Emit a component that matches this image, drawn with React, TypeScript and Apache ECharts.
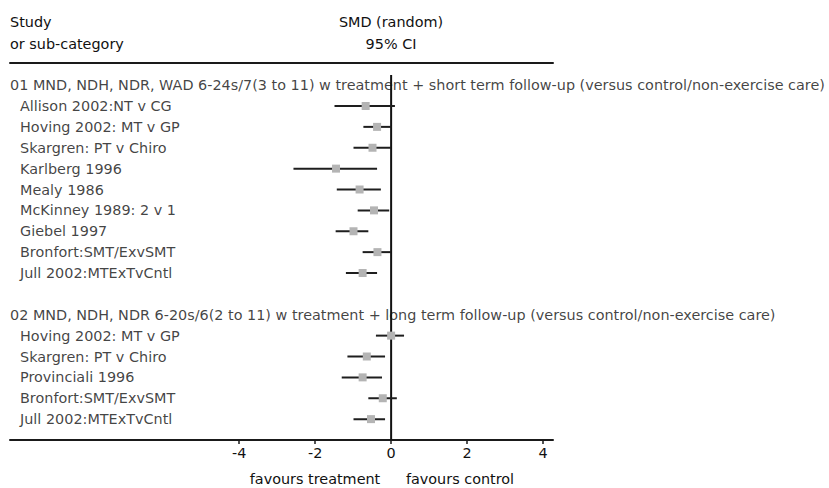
import React, { useEffect, useRef } from "react";
import * as echarts from "echarts";

// ---- Data ----
const groupTitles = [
  "01 MND, NDH, NDR, WAD 6-24s/7(3 to 11) w treatment + short term follow-up (versus control/non-exercise care)",
  "02 MND, NDH, NDR 6-20s/6(2 to 11) w treatment + long term follow-up (versus control/non-exercise care)",
];
const studies1 = [
  "Allison 2002:NT v CG",
  "Hoving 2002: MT v GP",
  "Skargren: PT v Chiro",
  "Karlberg 1996",
  "Mealy 1986",
  "McKinney 1989: 2 v 1",
  "Giebel 1997",
  "Bronfort:SMT/ExvSMT",
  "Jull 2002:MTExTvCntl",
];
const est1 = [-0.67, -0.37, -0.49, -1.45, -0.83, -0.45, -0.99, -0.36, -0.75];
const lo1 = [-1.49, -0.73, -0.99, -2.57, -1.43, -0.88, -1.46, -0.75, -1.19];
const hi1 = [0.1, 0.01, 0.0, -0.37, -0.27, -0.05, -0.6, 0.0, -0.37];

const studies2 = [
  "Hoving 2002: MT v GP",
  "Skargren: PT v Chiro",
  "Provinciali 1996",
  "Bronfort:SMT/ExvSMT",
  "Jull 2002:MTExTvCntl",
];
const est2 = [0.0, -0.64, -0.75, -0.22, -0.53];
const lo2 = [-0.4, -1.15, -1.3, -0.6, -0.99];
const hi2 = [0.34, -0.16, -0.24, 0.15, -0.16];

const xTicks = [-4, -2, 0, 2, 4];
const xMin = -10.03;
const xMax = 4.26;

const FONT = "DejaVu Sans";
const FS = 14.4;
const TXT = "#111";

export default function App() {
  const ref = useRef<HTMLDivElement>(null);
  useEffect(() => {
    if (!ref.current) return;
    const chart = echarts.init(ref.current, undefined, { renderer: "svg" });

    // Row layout: header, studies, blank, header, studies
    const headerRows: any[] = [];
    const studyRows: any[] = [];
    const ciRows: any[] = [];
    let row = 0;
    headerRows.push([xMin, row, groupTitles[0]]);
    row++;
    studies1.forEach((s, i) => {
      studyRows.push([xMin, row, s]);
      ciRows.push([est1[i], lo1[i], hi1[i], row]);
      row++;
    });
    row++;
    headerRows.push([xMin, row, groupTitles[1]]);
    row++;
    studies2.forEach((s, i) => {
      studyRows.push([xMin, row, s]);
      ciRows.push([est2[i], lo2[i], hi2[i], row]);
      row++;
    });

    const yMin = -1.06;
    const yMax = 17.0;
    const font = `${FS}px '${FONT}'`;

    const option: any = {
      animation: false,
      backgroundColor: "#fff",
      textStyle: { fontFamily: FONT },
      grid: { left: 10, right: 276, top: 63, bottom: 48, containLabel: false },
      xAxis: [
        {
          type: "value",
          min: xMin,
          max: xMax,
          position: "bottom",
          axisLine: { show: true, onZero: false, lineStyle: { color: "#1a1a1a", width: 2 } },
          axisTick: {
            show: true,
            length: 4,
            customValues: xTicks,
            lineStyle: { color: "#1a1a1a", width: 1.5 },
          },
          axisLabel: {
            show: true,
            customValues: xTicks,
            color: TXT,
            fontFamily: FONT,
            fontSize: FS,
            margin: 6,
          },
          splitLine: { show: false },
        },
        {
          type: "value",
          min: xMin,
          max: xMax,
          position: "top",
          axisLine: { show: true, onZero: false, lineStyle: { color: "#1a1a1a", width: 2 } },
          axisTick: { show: false },
          axisLabel: { show: false },
          splitLine: { show: false },
        },
      ],
      yAxis: {
        type: "value",
        inverse: true,
        min: yMin,
        max: yMax,
        show: false,
        axisLine: { onZero: false },
        splitLine: { show: false },
      },
      graphic: [
        { type: "text", x: 10, y: 22, style: { text: "Study", font, fill: TXT, verticalAlign: "middle" } },
        { type: "text", x: 10, y: 44, style: { text: "or sub-category", font, fill: TXT, verticalAlign: "middle" } },
        { type: "text", x: 391, y: 22, style: { text: "SMD (random)", font, fill: TXT, align: "center", verticalAlign: "middle" } },
        { type: "text", x: 391, y: 44, style: { text: "95% CI", font, fill: TXT, align: "center", verticalAlign: "middle" } },
        { type: "text", x: 315, y: 479, style: { text: "favours treatment", font, fill: TXT, align: "center", verticalAlign: "middle" } },
        { type: "text", x: 460, y: 479, style: { text: "favours control", font, fill: TXT, align: "center", verticalAlign: "middle" } },
      ],
      series: [
        {
          type: "line",
          xAxisIndex: 0,
          data: [
            [0, -0.48],
            [0, yMax],
          ],
          symbol: "none",
          lineStyle: { color: "#111", width: 2 },
          silent: true,
          z: 3,
        },
        {
          type: "custom",
          xAxisIndex: 0,
          data: ciRows,
          clip: false,
          z: 4,
          renderItem: (params: any, api: any) => {
            const est = api.value(0);
            const lo = api.value(1);
            const hi = api.value(2);
            const r = api.value(3);
            const p1 = api.coord([lo, r]);
            const p2 = api.coord([hi, r]);
            const pe = api.coord([est, r]);
            const s = 8;
            return {
              type: "group",
              children: [
                {
                  type: "line",
                  shape: { x1: p1[0], y1: p1[1], x2: p2[0], y2: p2[1] },
                  style: { stroke: "#1e1e1e", lineWidth: 2 },
                },
                {
                  type: "rect",
                  shape: { x: pe[0] - s / 2, y: pe[1] - s / 2, width: s, height: s },
                  style: { fill: "#b4b4b4" },
                },
              ],
            };
          },
        },
        {
          type: "scatter",
          xAxisIndex: 0,
          data: headerRows,
          symbolSize: 0,
          silent: true,
          label: {
            show: true,
            position: "right",
            distance: 0,
            formatter: (p: any) => p.value[2],
            color: TXT,
            fontFamily: FONT,
            fontSize: FS,
          },
        },
        {
          type: "scatter",
          xAxisIndex: 0,
          data: studyRows,
          symbolSize: 0,
          silent: true,
          label: {
            show: true,
            position: "right",
            distance: 0,
            offset: [10, 0],
            formatter: (p: any) => p.value[2],
            color: TXT,
            fontFamily: FONT,
            fontSize: FS,
          },
        },
      ],
    };
    chart.setOption(option);
    return () => chart.dispose();
  }, []);
  return (
    <div
      ref={ref}
      style={{ position: "fixed", left: 0, top: 0, width: 829, height: 488, background: "#fff" }}
    />
  );
}
